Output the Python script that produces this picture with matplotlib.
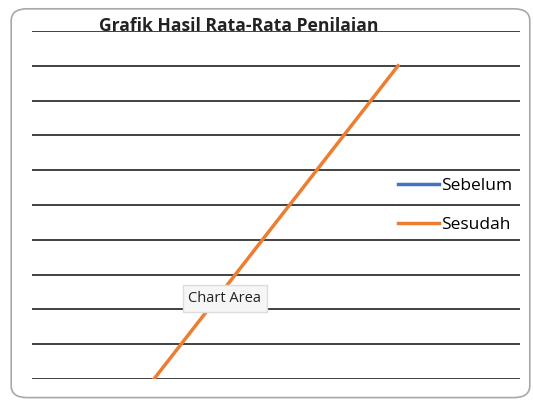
import numpy as np
import matplotlib.pyplot as plt
from matplotlib.patches import FancyBboxPatch

categories = ["1", "2"]
sebelum = [np.nan, np.nan]
sesudah = [0, 90]

plt.rcParams['font.family'] = ['Open Sans', 'DejaVu Sans']

fig = plt.figure(figsize=(5.33, 4), dpi=100)
ax = fig.add_axes([0.060, 0.0525, 0.9156, 0.87])

x = np.arange(len(categories)) + 0.5
ax.plot(x, sebelum, color="#4472c4", linewidth=2.5, label="Sebelum")
ax.plot(x, sesudah, color="#ed7d31", linewidth=2.5, label="Sesudah")

ax.set_xlim(0, len(categories))
ax.set_ylim(0, 100)
ax.set_yticks(np.arange(0, 101, 10))
ax.grid(axis='y', color="#333333", linewidth=1.3)
ax.set_axisbelow(True)
ax.tick_params(left=False, bottom=False, labelleft=False, labelbottom=False)
for s in ax.spines.values():
    s.set_visible(False)

fig.text(0.447, 0.922, "Grafik Hasil Rata-Rata Penilaian", ha='center', va='baseline',
         fontsize=12.6, fontweight='bold', color="#222222")

leg = ax.legend(loc='center left', bbox_to_anchor=(0.717, 0.498), frameon=False,
                fontsize=12.5, handlelength=2.4, handletextpad=0.1, labelspacing=1.3)

# rounded chart border
fig.patches.append(FancyBboxPatch((0.021, 0.006), 0.973, 0.972,
                                  boxstyle="round,pad=0,rounding_size=0.03",
                                  transform=fig.transFigure, facecolor='none',
                                  edgecolor="#a8a8a8", linewidth=1.2))

# tooltip
fig.text(0.422, 0.253, "Chart Area", ha='center', va='center', fontsize=10.5, color="#222222",
         bbox=dict(boxstyle="square,pad=0.4", facecolor="#f6f6f6", edgecolor="#dcdcdc"))

fig.savefig("out.png", dpi=100)
